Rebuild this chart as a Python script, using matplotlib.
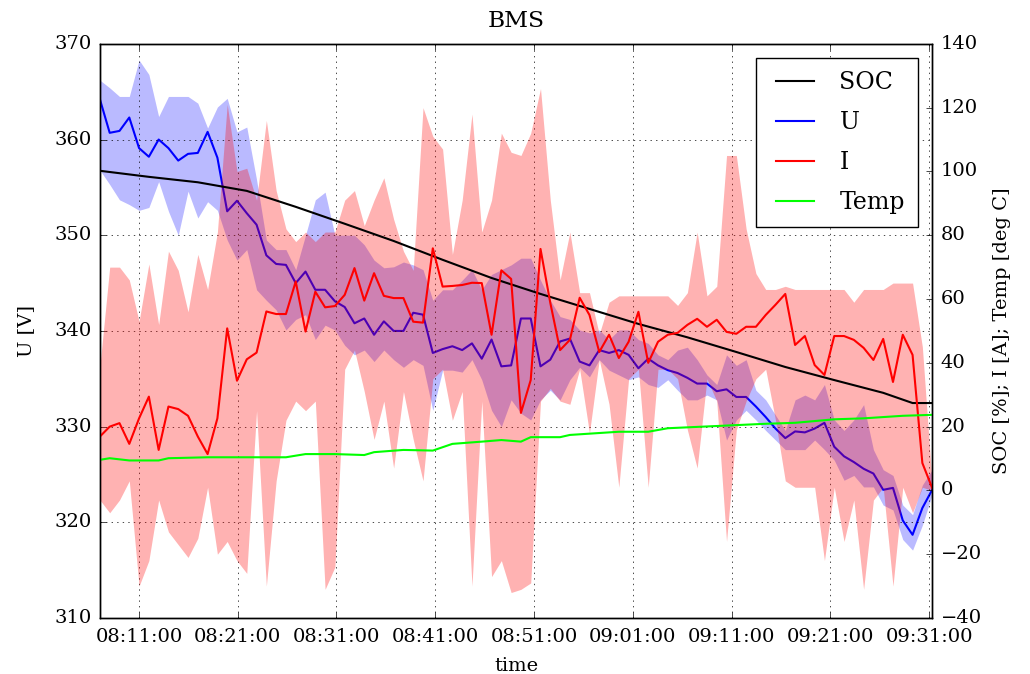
import numpy as np
import pandas as pd
import matplotlib
matplotlib.use('Agg')
import matplotlib.pyplot as plt
import matplotlib.dates as mdates

# one sample per minute, 08:07 .. 09:31
time = pd.date_range('2015-03-12 08:07:03', '2015-03-12 09:31:18', periods=86)

# pack voltage: mean / min / max per sample
u = [364.2, 360.7, 360.9, 362.3, 359.1, 358.2, 360.0, 359.1, 357.8, 358.5,
     358.6, 360.8, 358.1, 352.5, 353.6, 352.3, 351.1, 347.9, 347.0, 346.9,
     345.0, 346.2, 344.3, 344.3, 343.1, 342.5, 340.8, 341.3, 339.6, 341.0,
     340.0, 340.0, 341.9, 341.7, 337.7, 338.1, 338.4, 338.0, 338.7, 337.1,
     339.1, 336.3, 336.4, 341.3, 341.3, 336.3, 337.0, 338.9, 339.2, 336.8,
     336.4, 338.0, 337.7, 338.0, 337.5, 336.1, 337.1, 336.4, 335.9, 335.6,
     335.1, 334.5, 334.5, 333.7, 333.9, 333.1, 333.1, 332.1, 331.0, 329.8,
     328.8, 329.5, 329.4, 329.8, 330.4, 327.9, 326.9, 326.3, 325.6, 325.1,
     323.4, 323.6, 320.2, 318.7, 321.5, 323.4]
u_max = [366.2, 365.4, 364.5, 364.5, 368.3, 366.8, 362.4, 364.5, 364.5, 364.5,
         363.8, 361.2, 363.4, 364.3, 360.8, 361.3, 355.8, 349.5, 348.5, 348.5,
         346.4, 350.0, 353.7, 354.5, 350.0, 350.0, 350.0, 349.0, 347.4, 346.6,
         346.7, 347.2, 346.9, 346.4, 343.2, 344.3, 344.3, 345.3, 346.4, 344.3,
         345.9, 346.4, 346.9, 347.6, 347.6, 345.3, 343.2, 341.5, 341.2, 340.1,
         339.8, 340.1, 339.1, 340.1, 340.1, 339.1, 338.7, 337.5, 337.0, 338.0,
         338.3, 337.0, 335.4, 334.4, 337.5, 336.4, 337.0, 333.8, 332.8, 331.2,
         329.6, 332.8, 333.3, 332.8, 334.4, 330.7, 329.6, 330.7, 332.3, 327.6,
         325.5, 324.9, 321.8, 320.8, 323.9, 325.5]
u_min = [356.8, 355.3, 353.7, 353.2, 352.6, 352.9, 355.6, 352.5, 350.0, 354.6,
         351.8, 353.5, 352.6, 349.5, 347.4, 348.5, 344.3, 343.2, 342.2, 340.1,
         341.2, 341.7, 339.1, 340.6, 340.1, 338.5, 337.5, 338.0, 336.8, 338.0,
         337.0, 336.2, 337.0, 336.4, 331.7, 335.9, 335.9, 335.7, 337.0, 334.9,
         331.7, 330.0, 332.8, 331.4, 330.7, 332.8, 333.8, 332.8, 334.9, 336.2,
         335.2, 337.0, 335.9, 335.4, 334.9, 335.2, 334.4, 334.1, 334.9, 333.8,
         332.8, 332.8, 333.3, 332.8, 328.6, 330.7, 331.7, 330.7, 329.6, 328.6,
         327.6, 327.6, 327.6, 328.6, 327.6, 326.5, 324.4, 324.9, 323.7, 323.7,
         321.8, 321.3, 318.2, 317.1, 319.7, 322.9]

# current: mean / min / max per sample
cur = [16.9, 20.0, 21.1, 14.6, 22.6, 29.4, 12.7, 26.3, 25.5, 23.4,
       16.9, 11.4, 22.6, 50.8, 34.4, 41.1, 43.2, 56.1, 55.3, 55.3,
       65.5, 49.8, 62.3, 57.4, 57.8, 61.3, 69.7, 59.5, 68.1, 61.0,
       60.3, 60.3, 52.9, 52.6, 75.9, 63.9, 64.1, 64.4, 65.1, 65.0,
       48.8, 69.0, 66.3, 24.3, 34.6, 75.7, 58.8, 44.0, 47.2, 60.4,
       55.0, 43.4, 48.8, 41.5, 46.6, 56.0, 40.0, 46.6, 48.8, 49.4,
       51.9, 53.8, 51.3, 53.5, 49.7, 49.1, 51.3, 51.3, 55.0, 58.2,
       61.6, 45.6, 48.4, 39.3, 36.2, 48.4, 48.4, 47.2, 44.7, 40.9,
       47.5, 34.0, 48.8, 42.5, 8.6, 0.8]
cur_max = [39, 70, 70, 66, 53, 71, 52, 75, 69, 56,
           74, 63, 81, 121, 100, 101, 91, 116, 94, 82,
           78, 81, 78, 81, 81, 91, 94, 83, 91, 98,
           85, 75, 69, 120, 111, 107, 74, 91, 118, 81,
           91, 112, 106, 105, 112, 126, 91, 66, 81, 62,
           62, 49, 59, 61, 61, 61, 61, 61, 61, 58,
           62, 81, 61, 64, 105, 105, 82, 68, 63, 63,
           64, 63, 63, 63, 63, 63, 63, 59, 63, 63,
           63, 65, 65, 65, 45, 2]
cur_min = [-3, -7, -3, 3, -30, -22, -3, -13, -17, -21,
           -15, 1, -20, -16, -22, -26, 25, -30, 3, 22,
           28, 25, 28, -31, -24, 38, 44, 31, 16, 28,
           7, 31, 16, 3, 35, 38, 22, 31, -30, 28,
           -27, -22, -32, -31, -29, 28, 32, 28, 27, 38,
           18, 41, 27, 1, 35, 38, 1, 38, 38, 35,
           19, 7, 35, 28, -16, 19, 28, 35, 38, 22,
           3, 1, 1, 1, -22, 1, -16, -3, -31, -3,
           1, -30, 1, -7, 1, 0]

# SOC and temperature change slowly, read at fewer samples
soc_idx = [0, 5, 10, 15, 20, 25, 30, 35, 40, 45, 50, 55, 60, 65, 70, 75, 80, 83, 85]
soc = [100.2, 98.3, 96.6, 93.9, 88.9, 83.6, 78.2, 72.3, 66.6, 61.6,
       56.9, 52.2, 48.0, 43.4, 38.7, 34.6, 30.6, 27.4, 27.4]
temp_idx = [0, 1, 3, 6, 7, 11, 19, 21, 24, 27, 28, 31, 34, 36, 39,
            41, 43, 44, 47, 48, 53, 56, 58, 63, 68, 71, 75, 78, 82, 85]
temp = [9.6, 10.1, 9.4, 9.4, 10.1, 10.4, 10.4, 11.4, 11.4, 11.1, 12.0, 12.7, 12.5, 14.6, 15.3,
        15.8, 15.3, 16.7, 16.7, 17.4, 18.4, 18.4, 19.5, 20.2, 20.9, 21.2, 22.3, 22.6, 23.4, 23.7]

plt.style.use('classic')
plt.rcParams['font.family'] = 'DejaVu Serif'
plt.rcParams['font.size'] = 14
plt.rcParams['xtick.major.pad'] = 7
plt.rcParams['ytick.major.pad'] = 6

fig = plt.figure(figsize=(10.3, 6.74), dpi=100, facecolor='white')
ax1 = fig.add_axes([0.097, 0.083, 0.808, 0.852])
ax2 = ax1.twinx()

ax1.fill_between(time, u_min, u_max, color='b', alpha=0.27, linewidth=0)
l_u, = ax1.plot(time, u, 'b-', lw=1.5, label='U')

ax2.fill_between(time, cur_min, cur_max, color='r', alpha=0.3, linewidth=0)
l_soc, = ax2.plot(time[soc_idx], soc, 'k-', lw=1.5, label='SOC')
l_i, = ax2.plot(time, cur, 'r-', lw=1.5, label='I')
l_t, = ax2.plot(time[temp_idx], temp, '-', color='#00ff00', lw=1.5, label='Temp')

ax1.set_ylim(310, 370)
ax2.set_ylim(-40, 140)
ax1.set_xlim(time[0], time[-1])
ax1.xaxis.set_major_locator(mdates.MinuteLocator(byminute=[1, 11, 21, 31, 41, 51]))
ax1.xaxis.set_major_formatter(mdates.DateFormatter('%H:%M:%S'))
ax1.grid(True)

ax1.set_title('BMS', pad=12)
ax1.set_xlabel('time', labelpad=8)
ax1.set_ylabel('U [V]', labelpad=14)
ax2.set_ylabel('SOC [%]; I [A]; Temp [deg C]', labelpad=8)

ax2.legend([l_soc, l_u, l_i, l_t], ['SOC', 'U', 'I', 'Temp'], loc='upper right',
           fontsize=17, labelspacing=0.72, borderpad=0.55, handlelength=2.2,
           borderaxespad=0.6)

fig.savefig('out.png', dpi=100, facecolor='white')
